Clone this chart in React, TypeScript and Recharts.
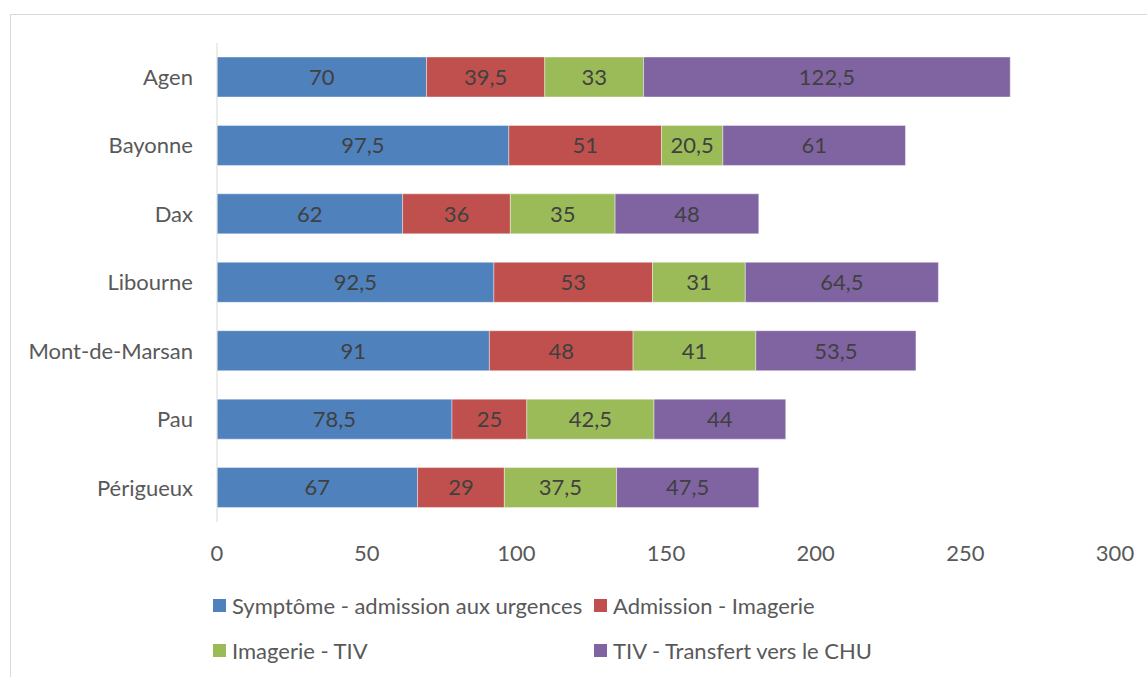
import { BarChart, Bar, XAxis, YAxis, LabelList } from 'recharts'

const sites = ['Agen', 'Bayonne', 'Dax', 'Libourne', 'Mont-de-Marsan', 'Pau', 'Périgueux']
const symptomeAdmission = [70, 97.5, 62, 92.5, 91, 78.5, 67]
const admissionImagerie = [39.5, 51, 36, 53, 48, 25, 29]
const imagerieTiv = [33, 20.5, 35, 31, 41, 42.5, 37.5]
const tivTransfert = [122.5, 61, 48, 64.5, 53.5, 44, 47.5]
const xTicks = [0, 50, 100, 150, 200, 250, 300]

const series = [
  { key: 'symptome', name: 'Symptôme - admission aux urgences', color: '#4F81BD', values: symptomeAdmission },
  { key: 'admission', name: 'Admission - Imagerie', color: '#C0504D', values: admissionImagerie },
  { key: 'imagerie', name: 'Imagerie - TIV', color: '#9BBB59', values: imagerieTiv },
  { key: 'tiv', name: 'TIV - Transfert vers le CHU', color: '#8064A2', values: tivTransfert },
]

const data = sites.map((site, i) => {
  const row: Record<string, string | number> = { site }
  series.forEach((s) => {
    row[s.key] = s.values[i]
  })
  return row
})

const FONT = 'Lato, "Open Sans", sans-serif'
const TEXT = '#595959'

// comma decimals, like the original French chart
const fmt = (v: unknown) => String(v).replace('.', ',')

export default function App() {
  return (
    <div style={{ position: 'absolute', left: 0, top: 0, width: 1147, height: 677, background: '#fff', fontFamily: FONT }}>
      <div
        style={{
          position: 'absolute',
          left: 10,
          top: 14,
          right: -2,
          bottom: -2,
          border: '1px solid #d9d9d9',
        }}
      />
      <BarChart
        width={1147}
        height={677}
        data={data}
        layout="vertical"
        margin={{ top: 43, right: 32, left: 0, bottom: 115 }}
        barSize={40}
      >
        <XAxis
          type="number"
          domain={[0, 300]}
          ticks={xTicks}
          axisLine={false}
          tickLine={false}
          tickMargin={17}
          height={40}
          tick={{ fill: TEXT, fontSize: 22, fontFamily: FONT }}
        />
        <YAxis
          type="category"
          dataKey="site"
          width={217}
          axisLine={{ stroke: '#d9d9d9' }}
          tickLine={false}
          tickMargin={18}
          tick={{ fill: TEXT, fontSize: 22, fontFamily: FONT }}
        />
        {series.map((s) => (
          <Bar
            key={s.key}
            dataKey={s.key}
            name={s.name}
            stackId="a"
            fill={s.color}
            stroke="#ffffff"
            strokeOpacity={0.4}
            strokeWidth={1}
            isAnimationActive={false}
          >
            <LabelList
              dataKey={s.key}
              position="center"
              formatter={fmt}
              fill="#404040"
              fontSize={22}
              fontFamily={FONT}
            />
          </Bar>
        ))}
      </BarChart>
      {series.map((s, i) => (
        <div
          key={s.key}
          style={{
            position: 'absolute',
            left: i % 2 === 0 ? 213 : 594,
            top: i < 2 ? 592 : 637,
            height: 26,
            display: 'flex',
            alignItems: 'center',
            color: TEXT,
            fontSize: 22,
            whiteSpace: 'nowrap',
          }}
        >
          <span style={{ display: 'inline-block', width: 13, height: 13, background: s.color, marginRight: 6 }} />
          {s.name}
        </div>
      ))}
    </div>
  )
}
